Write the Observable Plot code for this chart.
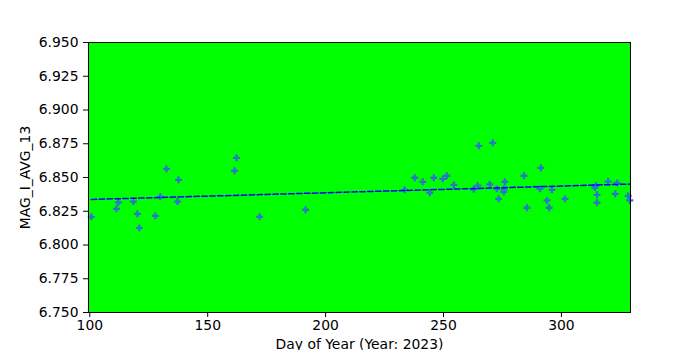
<!DOCTYPE html>
<html>
<head>
<meta charset="utf-8">
<script src="https://cdn.jsdelivr.net/npm/d3@7"></script>
<script src="https://cdn.jsdelivr.net/npm/@observablehq/plot@0.6"></script>
<style>
  html, body { margin: 0; padding: 0; background: #fff; }
  #chart svg { display: block; }
</style>
</head>
<body>
<div id="chart"></div>
<script>
const days = [100.6, 111.3, 112.1, 118.5, 120.2, 121.0, 127.8, 129.9, 132.5, 137.2,
  137.6, 161.4, 162.2, 172.0, 191.5, 233.5, 237.8, 241.2, 244.2, 245.9,
  249.7, 251.4, 254.4, 262.8, 264.5, 265.0, 269.6, 270.9, 272.6, 273.4,
  275.6, 275.6, 276.0, 284.1, 285.4, 290.9, 291.3, 293.9, 294.8, 296.0,
  301.5, 314.2, 314.7, 315.1, 315.1, 319.8, 322.8, 323.6, 328.3, 329.0];
const mags = [6.8209, 6.8268, 6.8315, 6.8322, 6.8231, 6.8127, 6.8216, 6.8357, 6.8564, 6.8322,
  6.8483, 6.8550, 6.8646, 6.8209, 6.8261, 6.8409, 6.8498, 6.8468, 6.8387, 6.8498,
  6.8490, 6.8513, 6.8446, 6.8413, 6.8439, 6.8735, 6.8448, 6.8757, 6.8416, 6.8342,
  6.8413, 6.8394, 6.8468, 6.8513, 6.8276, 6.8416, 6.8572, 6.8330, 6.8276, 6.8409,
  6.8342, 6.8426, 6.8441, 6.8372, 6.8313, 6.8470, 6.8379, 6.8460, 6.8364, 6.8330];
const xTicks = [100, 150, 200, 250, 300];
const yTicks = [6.75, 6.775, 6.8, 6.825, 6.85, 6.875, 6.9, 6.925, 6.95];
const xLabel = "Day of Year (Year: 2023)";
const yLabel = "MAG_I_AVG_13";

const data = days.map((d, i) => ({day: d, mag: mags[i]}));

const chart = Plot.plot({
  width: 700,
  height: 350,
  marginLeft: 88,
  marginRight: 70,
  marginTop: 42,
  marginBottom: 38,
  style: {fontFamily: "DejaVu Sans", fontSize: "13.9px", background: "white", color: "black"},
  x: {domain: [99.45, 329.3], ticks: xTicks, tickFormat: d3.format("d"), tickSize: 5, tickPadding: 3,
      label: xLabel, labelAnchor: "center", labelOffset: 36, labelArrow: "none"},
  y: {domain: [6.75, 6.95], ticks: yTicks, tickFormat: d3.format(".3f"), tickSize: 5, tickPadding: 5,
      label: yLabel, labelAnchor: "center", labelOffset: 68, labelArrow: "none"},
  marks: [
    Plot.frame({fill: "#00ff00"}),
    Plot.dot(data, {x: "day", y: "mag", symbol: "cross", r: 2.9, fill: "#2a78c4", stroke: "none"}),
    Plot.linearRegressionY(data, {x: "day", y: "mag", stroke: "blue", strokeWidth: 1.5, strokeDasharray: "5.5,2.4", ci: 0}),
    Plot.frame({stroke: "black", strokeWidth: 1})
  ]
});
document.getElementById("chart").appendChild(chart);
</script>
</body>
</html>
